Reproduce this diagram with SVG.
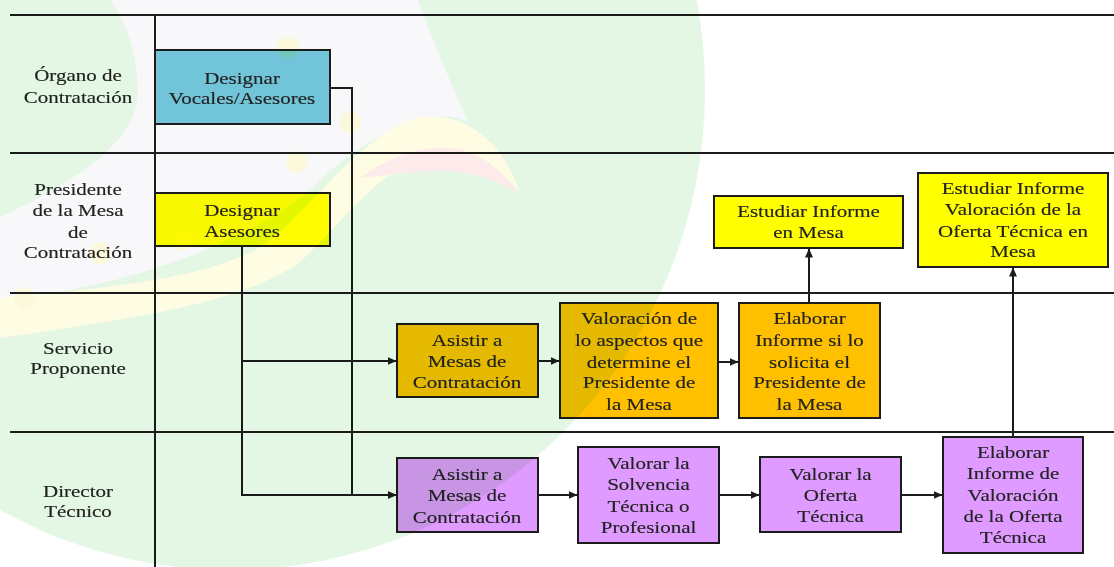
<svg xmlns="http://www.w3.org/2000/svg" width="1114" height="567" viewBox="0 0 1114 567">
  <style>
    .lane{stroke:#1c1c1c;stroke-width:2;fill:none}
    .box{stroke:#1c1c1c;stroke-width:2}
    .cyan{fill:#75cadc}
    .yel{fill:#ffff00}
    .org{fill:#ffc000}
    .pur{fill:#df9bff}
    .t{font-family:"Liberation Serif","Times New Roman",serif;font-size:17.5px;fill:#222;stroke:#222;stroke-width:0.15;text-anchor:middle}
    .wire{stroke:#1c1c1c;stroke-width:2;fill:none}
    .mark{mix-blend-mode:multiply}
  </style>
  <defs>
    <marker id="ah" markerWidth="9" markerHeight="8" refX="8.5" refY="4" orient="auto" markerUnits="userSpaceOnUse">
      <path d="M0,0 L9,4 L0,8 Z" fill="#1c1c1c"/>
    </marker>
  </defs>

  <rect width="1114" height="567" fill="#ffffff"/>

  <!-- swimlane grid -->
  <g id="lanes">
    <path class="lane" d="M10,15 H1114 M10,153 H1114 M10,293 H1114 M10,432 H1114 M155,15 V567"/>
    <text class="t" transform="translate(78 0) scale(1.2 1)"><tspan x="0" y="81">Órgano de</tspan><tspan x="0" y="103">Contratación</tspan></text>
    <text class="t" transform="translate(78 0) scale(1.2 1)"><tspan x="0" y="195">Presidente</tspan><tspan x="0" y="216">de la Mesa</tspan><tspan x="0" y="238">de</tspan><tspan x="0" y="258">Contratación</tspan></text>
    <text class="t" transform="translate(78 0) scale(1.2 1)"><tspan x="0" y="354">Servicio</tspan><tspan x="0" y="374">Proponente</tspan></text>
    <text class="t" transform="translate(78 0) scale(1.2 1)"><tspan x="0" y="497">Director</tspan><tspan x="0" y="517">Técnico</tspan></text>
  </g>

  <!-- connectors -->
  <g id="connectors">
    <path class="wire" d="M330,88 H352 V495 H396" marker-end="url(#ah)"/>
    <path class="wire" d="M242,246 V495 H396" marker-end="url(#ah)"/>
    <path class="wire" d="M242,361 H396" marker-end="url(#ah)"/>
    <path class="wire" d="M538,361 H559" marker-end="url(#ah)"/>
    <path class="wire" d="M718,362 H738" marker-end="url(#ah)"/>
    <path class="wire" d="M809,303 V249" marker-end="url(#ah)"/>
    <path class="wire" d="M538,495 H577" marker-end="url(#ah)"/>
    <path class="wire" d="M719,495 H759" marker-end="url(#ah)"/>
    <path class="wire" d="M901,495 H942" marker-end="url(#ah)"/>
    <path class="wire" d="M1013,437 V268" marker-end="url(#ah)"/>
  </g>

  <!-- process steps -->
  <g id="designar-vocales">
    <rect class="box cyan" x="155" y="50" width="175" height="74"/>
    <text class="t" transform="translate(242 0) scale(1.2 1)"><tspan x="0" y="84">Designar</tspan><tspan x="0" y="104">Vocales/Asesores</tspan></text>
  </g>
  <g id="designar-asesores">
    <rect class="box yel" x="155" y="193" width="175" height="53"/>
    <text class="t" transform="translate(242 0) scale(1.2 1)"><tspan x="0" y="216">Designar</tspan><tspan x="0" y="237">Asesores</tspan></text>
  </g>
  <g id="sp-asistir">
    <rect class="box org" x="397" y="324" width="141" height="73"/>
    <text class="t" transform="translate(467 0) scale(1.2 1)"><tspan x="0" y="346">Asistir a</tspan><tspan x="0" y="367.5">Mesas de</tspan><tspan x="0" y="388.5">Contratación</tspan></text>
  </g>
  <g id="sp-valoracion">
    <rect class="box org" x="560" y="303" width="158" height="115"/>
    <text class="t" transform="translate(639 0) scale(1.2 1)"><tspan x="0" y="324">Valoración de</tspan><tspan x="0" y="346">lo aspectos que</tspan><tspan x="0" y="368">determine el</tspan><tspan x="0" y="388">Presidente de</tspan><tspan x="0" y="410">la Mesa</tspan></text>
  </g>
  <g id="sp-elaborar">
    <rect class="box org" x="739" y="303" width="141" height="115"/>
    <text class="t" transform="translate(809.5 0) scale(1.2 1)"><tspan x="0" y="324">Elaborar</tspan><tspan x="0" y="346">Informe si lo</tspan><tspan x="0" y="368">solicita el</tspan><tspan x="0" y="388">Presidente de</tspan><tspan x="0" y="410">la Mesa</tspan></text>
  </g>
  <g id="pm-estudiar">
    <rect class="box yel" x="714" y="196" width="189" height="52"/>
    <text class="t" transform="translate(808.5 0) scale(1.2 1)"><tspan x="0" y="217">Estudiar Informe</tspan><tspan x="0" y="238">en Mesa</tspan></text>
  </g>
  <g id="pm-estudiar-oferta">
    <rect class="box yel" x="918" y="173" width="190" height="94"/>
    <text class="t" transform="translate(1013 0) scale(1.2 1)"><tspan x="0" y="194">Estudiar Informe</tspan><tspan x="0" y="215">Valoración de la</tspan><tspan x="0" y="237">Oferta Técnica en</tspan><tspan x="0" y="257">Mesa</tspan></text>
  </g>
  <g id="dt-asistir">
    <rect class="box pur" x="397" y="458" width="141" height="74"/>
    <text class="t" transform="translate(467 0) scale(1.2 1)"><tspan x="0" y="480">Asistir a</tspan><tspan x="0" y="501">Mesas de</tspan><tspan x="0" y="523">Contratación</tspan></text>
  </g>
  <g id="dt-solvencia">
    <rect class="box pur" x="578" y="447" width="141" height="96"/>
    <text class="t" transform="translate(648.5 0) scale(1.2 1)"><tspan x="0" y="469">Valorar la</tspan><tspan x="0" y="490">Solvencia</tspan><tspan x="0" y="512">Técnica o</tspan><tspan x="0" y="533">Profesional</tspan></text>
  </g>
  <g id="dt-oferta">
    <rect class="box pur" x="760" y="457" width="141" height="75"/>
    <text class="t" transform="translate(830.5 0) scale(1.2 1)"><tspan x="0" y="480">Valorar la</tspan><tspan x="0" y="501">Oferta</tspan><tspan x="0" y="522">Técnica</tspan></text>
  </g>
  <g id="dt-informe">
    <rect class="box pur" x="943" y="437" width="140" height="116"/>
    <text class="t" transform="translate(1013 0) scale(1.2 1)"><tspan x="0" y="458">Elaborar</tspan><tspan x="0" y="479">Informe de</tspan><tspan x="0" y="501">Valoración</tspan><tspan x="0" y="522">de la Oferta</tspan><tspan x="0" y="543">Técnica</tspan></text>
  </g>

  <!-- pale emblem printed behind the chart, blended over everything -->
  <g id="emblem" class="mark">
    <ellipse cx="230" cy="90" rx="475" ry="480" fill="#e4f6e4"/>
    <path fill="#f8f8fb" d="M110,0 L418,0 C432,40 452,85 468,122 C430,104 370,135 320,180 C270,230 150,285 0,300 L0,217 C70,185 132,145 137,100 C140,60 128,25 110,0 Z"/>
    <path fill="#fffce4" d="M0,298 C90,290 200,280 255,250 C300,225 345,150 405,122 C455,102 505,140 520,194 C500,165 462,150 430,156 C380,166 338,228 300,262 C240,305 120,320 0,338 Z"/>
    <path fill="#fdeaea" d="M360,178 C392,155 428,142 462,150 C490,158 508,178 518,193 C494,178 465,170 433,171 C405,172 380,176 360,178 Z"/>
    <g fill="#fcf8dc">
      <circle cx="288" cy="47" r="11"/>
      <circle cx="350" cy="122" r="11"/>
      <circle cx="297" cy="162" r="11"/>
      <circle cx="182" cy="240" r="11"/>
      <circle cx="100" cy="253" r="11"/>
      <circle cx="25" cy="298" r="11"/>
    </g>
  </g>
</svg>
